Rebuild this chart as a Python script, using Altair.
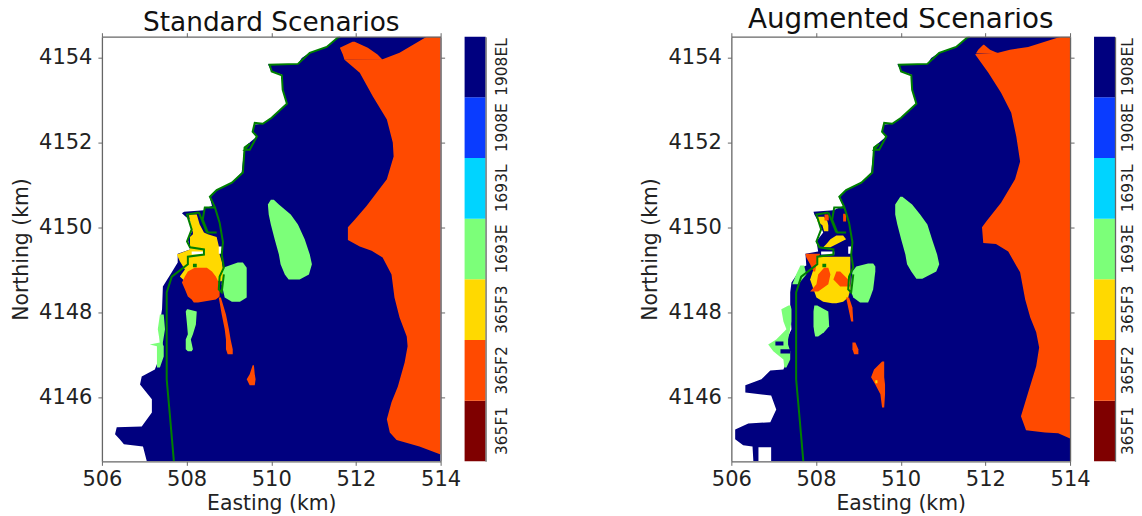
import altair as alt
import pandas as pd

FONT = "DejaVu Sans"
CLASSES = ["365F1", "365F2", "365F3", "1693E", "1693L", "1908E", "1908EL"]
COLORS = ["#7f0000", "#ff4a00", "#ffd900", "#7cff79", "#00d4ff", "#0a3cff", "#00007f"]
NAVY, ORANGE, YELLOW, GREEN, WHITE = "#00007f", "#ff4a00", "#ffd900", "#7cff79", "#ffffff"
X_TICKS = [506, 508, 510, 512, 514]
Y_TICKS = [4146, 4148, 4150, 4152, 4154]

# ---- shoreline, shared by both panels: (easting, northing)
coast_main = [(511.63,4154.50),(511.57,4154.48),(511.31,4154.26),(510.91,4154.12),(510.63,4153.86),(509.96,4153.84),
 (510.01,4153.68),(510.25,4153.59),(510.27,4153.25),(510.37,4152.92),(510.01,4152.59),(509.80,4152.45),(509.61,4152.47),
 (509.56,4152.26),(509.66,4152.15),(509.49,4151.84),(509.37,4151.84),(509.49,4151.98),(509.37,4151.89),(509.33,4151.30),
 (509.07,4151.06),(508.71,4150.89),(508.55,4150.73),(508.67,4150.48),(508.78,4150.12),(508.86,4149.66),(508.83,4149.37),
 (508.88,4149.06),(508.78,4148.85),(508.76,4148.55),(508.83,4148.48),(508.88,4148.90)]
coast_pier = [(508.67,4150.48),(508.43,4150.48),(508.38,4150.19),(508.50,4149.89),(508.71,4149.89)]
coast_south = [(508.29,4150.36),(508.01,4150.31),(508.12,4149.96),(508.01,4149.68),(508.08,4149.54),(508.41,4149.49),
 (508.41,4149.37),(508.03,4149.32),(508.03,4149.14),(507.65,4148.85),(507.53,4148.48),(507.53,4146.43),(507.60,4145.65),(507.70,4144.50)]
coast_mole = [(508.29,4150.36),(508.48,4149.89)]
coast_islet = [(508.15,4149.11),(508.24,4149.11)]

# ---- regions: (northing, west easting, east easting)
shore_top = [(4154.50,511.62),(4154.48,511.57),(4154.26,511.31),(4154.12,510.91),(4154.00,510.72),(4153.86,510.63),
 (4153.85,509.92),(4153.68,510.01),(4153.61,510.25),(4153.25,510.27),(4152.92,510.37),(4152.59,510.01),(4152.45,509.80),
 (4152.43,509.61),(4152.26,509.56),(4152.15,509.66),(4151.91,509.37),(4151.30,509.30),(4151.06,509.07),(4150.89,508.71),(4150.71,508.55)]
std_shore = [(4150.51,508.60),(4150.46,508.43),(4150.41,508.41),(4150.38,507.94),(4150.34,507.89),(4150.26,507.98),(4150.19,508.08),
 (4149.96,508.15),(4149.73,508.03),(4149.49,508.08),(4149.39,507.79),(4149.18,507.79),(4148.95,507.65),(4148.62,507.44),(4148.08,507.42),
 (4147.77,507.37),(4147.49,507.37),(4147.25,507.37),(4146.97,507.37),(4146.66,507.25),(4146.50,506.94),(4146.31,506.90),(4145.96,507.18),
 (4145.65,507.18),(4145.32,506.94),(4145.30,506.35),(4145.14,506.31),(4145.02,506.42),(4144.90,506.52),(4144.85,506.97),(4144.50,507.06)]
aug_shore = [(4150.51,508.64),(4150.41,508.41),(4150.38,507.94),(4150.31,507.96),(4150.19,508.03),(4149.89,508.17),(4149.68,508.01),
 (4149.44,508.05),(4149.39,507.75),(4149.11,507.77),(4149.06,507.65),(4148.71,507.42),(4148.48,507.39),(4148.08,507.39),(4147.61,507.42),
 (4147.25,507.25),(4146.85,507.30),(4146.66,507.23),(4146.64,506.92),(4146.43,506.71),(4146.29,506.33),(4146.12,506.33),(4146.05,506.94),
 (4145.72,507.06),(4145.42,506.92),(4145.39,506.40),(4145.25,506.09),(4145.02,506.09),(4144.88,506.28),(4144.85,506.50),(4144.50,506.52)]

std_east = [(4154.50,513.67),(4154.12,513.03),(4153.97,512.63),(4153.96,511.73),(4153.65,512.09),(4153.09,512.40),(4152.55,512.73),
 (4152.01,512.87),(4151.68,512.89),(4151.14,512.73),(4150.51,512.25),(4150.19,511.97),(4150.01,511.81),(4149.71,511.81),(4149.56,512.09),
 (4149.46,512.37),(4149.30,512.63),(4148.90,512.84),(4148.36,512.91),(4147.89,513.03),(4147.44,513.20),(4147.21,513.22),(4146.83,513.15),
 (4146.26,512.99),(4145.89,512.84),(4145.49,512.73),(4145.18,512.80),(4145.00,512.96),(4144.85,513.50),(4144.66,514.0)]
std_east_tip = [(4154.38,511.92,511.97),(4154.24,511.62,512.28),(4154.08,511.69,512.51),(4153.96,511.73,512.63)]
aug_east = [(4154.50,513.79),(4154.48,513.72),(4154.26,513.01),(4154.19,512.58),(4154.12,512.30),(4154.10,511.78),(4154.08,511.76),
 (4153.65,512.07),(4153.18,512.37),(4152.71,512.61),(4152.15,512.73),(4151.56,512.82),(4151.14,512.70),(4150.59,512.37),(4150.15,512.02),
 (4150.01,511.92),(4149.64,511.95),(4149.62,512.25),(4149.44,512.54),(4148.95,512.82),(4148.31,512.94),(4147.89,513.06),(4147.54,513.20),
 (4147.18,513.27),(4146.74,513.20),(4146.12,513.01),(4145.56,512.84),(4145.23,512.96),(4145.18,513.41),(4145.16,513.72),(4145.04,514.0)]
aug_east_tip = [(4154.31,511.95,511.97),(4154.19,511.83,512.11),(4154.11,511.78,512.30)]

std_lens = [(4150.66,509.99,510.06),(4150.55,509.92,510.18),(4150.31,509.94,510.46),(4150.08,509.99,510.63),(4149.73,510.08,510.79),
 (4149.37,510.18,510.91),(4149.14,510.22,510.96),(4148.90,510.32,510.89),(4148.78,510.41,510.67)]
std_square = [(4149.18,509.21,509.33),(4149.06,508.86,509.42),(4148.67,508.83,509.42),(4148.36,508.90,509.42),(4148.26,509.07,509.26)]
std_islet = [(4148.08,508.01,508.03),(4148.03,507.98,508.24),(4147.72,508.01,508.22),(4147.49,508.03,508.15),(4147.37,507.98,508.10),
 (4147.14,507.98,508.15),(4147.09,508.03,508.12)]
std_fringe = [(4147.96,507.37,507.46),(4147.61,507.32,507.49),(4147.30,507.37,507.44),(4147.25,507.13,507.44),(4147.21,507.30,507.46),
 (4146.97,507.30,507.46),(4146.71,507.30,507.37)]
std_yellow = [(4150.31,508.05,508.24),(4150.08,508.10,508.31),(4149.89,508.15,508.41),(4149.85,508.15,508.50),(4149.78,508.08,508.71),
 (4149.49,508.08,508.78),(4149.37,507.77,508.78),(4149.21,507.84,508.83),(4149.02,507.96,508.86),(4148.85,507.84,508.86),(4148.74,507.96,508.83)]
std_blob = [(4149.06,508.19,508.48),(4148.97,508.03,508.60),(4148.85,507.96,508.69),(4148.71,507.89,508.76),(4148.55,507.96,508.78),
 (4148.38,508.03,508.78),(4148.31,508.12,508.69),(4148.24,508.17,508.27)]
std_trail = [(4148.36,508.76,508.81),(4147.96,508.83,508.93),(4147.61,508.90,509.00),(4147.37,508.93,509.04),(4147.14,508.93,509.09),(4147.02,508.97,509.09)]
std_spot = [(4146.76,509.56,509.59),(4146.55,509.49,509.61),(4146.43,509.42,509.63),(4146.29,509.49,509.61)]
notch = [(4149.44,508.12,508.43),(4149.37,508.12,508.43)]
sliver = [(4149.56,508.76,508.83),(4149.39,508.76,508.83)]

aug_lens = [(4150.73,509.99,510.04),(4150.55,509.87,510.27),(4150.31,509.87,510.46),(4150.08,509.92,510.63),(4149.73,510.01,510.74),
 (4149.37,510.11,510.86),(4149.14,510.15,510.91),(4148.97,510.25,510.84),(4148.80,510.37,510.51)]
aug_square = [(4149.16,509.23,509.35),(4149.09,508.95,509.40),(4148.97,508.86,509.40),(4148.55,508.81,509.35),(4148.36,508.88,509.28),(4148.24,509.04,509.23)]
aug_islet = [(4148.17,507.96,508.03),(4148.03,507.94,508.29),(4147.68,507.94,508.31),(4147.54,507.96,508.19),(4147.44,507.98,508.05)]
aug_fringe = [(4148.17,507.35,507.40),(4148.08,507.18,507.42),(4147.79,507.23,507.42),(4147.61,507.30,507.39),(4147.37,507.06,507.34),
 (4147.25,506.87,507.34),(4147.09,506.99,507.39),(4146.90,507.23,507.39),(4146.71,507.25,507.30)]
aug_fringe_n = [(4149.11,507.63,507.72),(4148.90,507.53,507.77),(4148.67,507.44,507.58)]
aug_sea_a = [(4147.32,507.04,507.23),(4147.23,507.04,507.23)]
aug_sea_b = [(4147.14,507.16,507.39),(4147.04,507.16,507.39)]
aug_yellow = [(4149.32,508.05,508.81),(4149.14,507.98,508.81),(4148.78,507.86,508.81),(4148.55,507.94,508.81),(4148.36,508.01,508.76),
 (4148.26,508.17,508.64),(4148.22,508.38,508.48)]
aug_yel_a = [(4150.26,508.05,508.19),(4150.15,508.03,508.27),(4150.06,508.15,508.29),(4149.92,508.19,508.29)]
aug_yel_b = [(4149.82,508.48,508.64),(4149.73,508.34,508.71),(4149.61,508.24,508.48),(4149.54,508.17,508.34)]
aug_yel_c = [(4146.41,509.40,509.45),(4146.34,509.40,509.45)]
aug_or_a = [(4149.39,507.75,508.10),(4149.30,507.77,508.05),(4149.14,507.86,508.01),(4148.97,507.94,507.98)]
aug_or_b = [(4149.06,508.19,508.29),(4148.90,508.05,508.34),(4148.67,508.01,508.29),(4148.50,507.86,508.05)]
aug_or_c = [(4148.97,508.48,508.57),(4148.78,508.41,508.76),(4148.62,508.57,508.81)]
aug_or_d = [(4148.36,508.71,508.78),(4148.12,508.76,508.86),(4147.79,508.83,508.88)]
aug_or_e = [(4147.30,508.86,508.93),(4147.14,508.86,509.00),(4147.02,508.90,509.00)]
aug_or_f = [(4146.85,509.56,509.61),(4146.66,509.37,509.61),(4146.48,509.30,509.61),(4146.31,509.40,509.63),(4146.08,509.52,509.63),(4145.77,509.56,509.61)]
aug_or_g = [(4150.31,508.20,508.30),(4150.17,508.20,508.30)]
aug_or_h = [(4150.33,508.64,508.71),(4150.15,508.64,508.71)]
aug_white = [(4144.83,506.64,506.94),(4144.50,506.64,506.94)]

x_scale = alt.Scale(domain=[506, 514], nice=False, zero=False)
y_scale = alt.Scale(domain=[4144.5, 4154.5], nice=False, zero=False)
AX = dict(values=X_TICKS, format="d", grid=False, domainColor="#666666", domainWidth=1.3, tickColor="#666666",
          tickSize=4, tickWidth=1, zindex=2, labelFont=FONT, titleFont=FONT, labelFontSize=21, titleFontSize=20.4,
          titleFontWeight="normal", labelColor="#222222", titleColor="#222222", labelOverlap=False, labelFlush=False)
AY = dict(AX, values=Y_TICKS)


def area(rows, color):
    df = pd.DataFrame(rows, columns=["n", "w", "e"])
    return alt.Chart(df).mark_area(orient="horizontal", color=color, clip=True, opacity=1).encode(
        y=alt.Y("n:Q", scale=y_scale, axis=None),
        x=alt.X("w:Q", scale=x_scale, axis=None),
        x2="e:Q",
    )


def east(rows):
    return [(n, w, 514.0) for n, w in rows]


def line(rows, width=2.0):
    df = pd.DataFrame(rows, columns=["x", "y"])
    df["i"] = range(len(df))
    return alt.Chart(df).mark_line(color="#008000", strokeWidth=width, clip=True).encode(
        x=alt.X("x:Q", scale=x_scale, axis=None),
        y=alt.Y("y:Q", scale=y_scale, axis=None),
        order="i:Q",
    )


def axes(labels):
    df = pd.DataFrame({"x": [510], "y": [4150]})
    if labels:
        ax = alt.Axis(title="Easting (km)", titlePadding=4, labelPadding=3, **AX)
        ay = alt.Axis(title="Northing (km)", titlePadding=7, labelPadding=6, **AY)
    else:
        ax = alt.Axis(title=None, labels=False, orient="top", **AX)
        ay = alt.Axis(title=None, labels=False, orient="right", **AY)
    return alt.Chart(df).mark_point(opacity=0).encode(
        x=alt.X("x:Q", scale=x_scale, axis=ax), y=alt.Y("y:Q", scale=y_scale, axis=ay))


def panel(title, size, offset, regions):
    coast = [line(coast_main), line(coast_pier), line(coast_south), line(coast_mole), line(coast_islet, 3.5)]
    layers = [axes(True), axes(False)] + [area(r, c) for r, c in regions] + coast
    return alt.layer(*layers).resolve_axis(x="independent", y="independent").properties(
        width=339, height=425,
        title=alt.TitleParams(title, font=FONT, fontSize=size, fontWeight="normal", color="#111111", offset=offset, anchor="middle"),
    )


def colorbar(label_padding):
    df = pd.DataFrame({"c": CLASSES})
    return alt.Chart(df).mark_rect(stroke=None).encode(
        y=alt.Y("c:N", sort=CLASSES[::-1], scale=alt.Scale(paddingInner=0, paddingOuter=0),
                axis=alt.Axis(orient="right", title=None, labelAngle=270, labelAlign="center", labelBaseline="middle",
                              labelFont=FONT, labelFontSize=15.5, labelColor="#222222", tickSize=0, labelPadding=label_padding,
                              domainColor="#666666", domainWidth=1.3)),
        color=alt.Color("c:N", scale=alt.Scale(domain=CLASSES, range=COLORS), legend=None),
    ).properties(width=21, height=425)


std_regions = [(east(shore_top + std_shore), NAVY), (east(std_east), ORANGE), (std_east_tip, ORANGE), (std_lens, GREEN),
               (std_square, GREEN), (std_islet, GREEN), (std_fringe, GREEN), (std_yellow, YELLOW), (std_blob, ORANGE),
               (std_trail, ORANGE), (std_spot, ORANGE), (notch, WHITE), (sliver, WHITE)]
aug_regions = [(east(shore_top + aug_shore), NAVY), (east(aug_east), ORANGE), (aug_east_tip, ORANGE), (aug_lens, GREEN),
               (aug_square, GREEN), (aug_islet, GREEN), (aug_fringe, GREEN), (aug_fringe_n, GREEN), (aug_sea_a, NAVY), (aug_sea_b, NAVY),
               (aug_yellow, YELLOW), (aug_yel_a, YELLOW), (aug_yel_b, YELLOW), (aug_or_a, ORANGE), (aug_or_b, ORANGE), (aug_or_c, ORANGE),
               (aug_or_d, ORANGE), (aug_or_e, ORANGE), (aug_or_f, ORANGE), (aug_or_g, ORANGE), (aug_or_h, ORANGE), (aug_yel_c, YELLOW),
               (aug_white, WHITE), (notch, WHITE), (sliver, WHITE)]

left = alt.hconcat(panel("Standard Scenarios", 26.4, -4, std_regions), colorbar(16), spacing=3)
right = alt.hconcat(panel("Augmented Scenarios", 27.8, -2, aug_regions), colorbar(12), spacing=3)
chart = alt.hconcat(left, right, spacing=130).properties(padding={"left": 3, "top": -2.5, "right": -2, "bottom": 0}).configure_view(stroke=None)
chart.save("out.html", embed_options={"renderer": "svg", "actions": False})
